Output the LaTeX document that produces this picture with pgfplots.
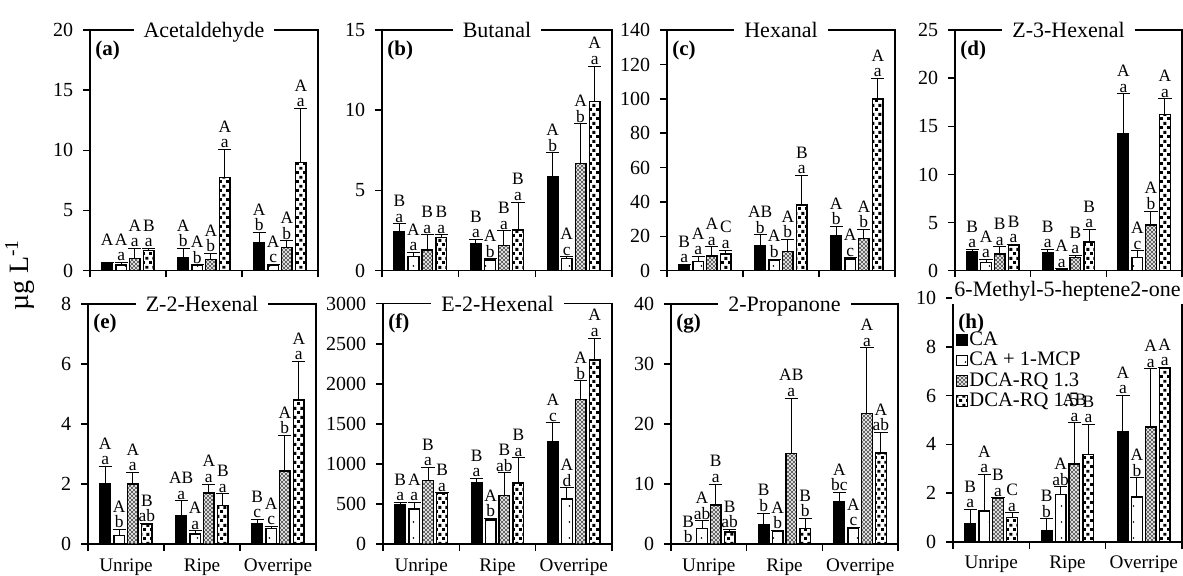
\documentclass[border=0pt]{standalone}
\usepackage{pgfplots}
\usepackage{pgfplotstable}
\pgfplotsset{compat=1.18}
\usepackage{fontspec}
\setmainfont{Liberation Serif}
\usetikzlibrary{patterns}

% fill patterns for the four storage treatments
\pgfdeclarepatternformonly{sparsedots}{\pgfqpoint{-1pt}{-1pt}}{\pgfqpoint{7pt}{9pt}}{\pgfqpoint{6pt}{8pt}}{%
  \pgfpathcircle{\pgfqpoint{2.7pt}{3pt}}{0.45pt}\pgfusepath{fill}}
\pgfdeclarepatternformonly{finecross}{\pgfqpoint{-0.5pt}{-0.5pt}}{\pgfqpoint{2.5pt}{2.5pt}}{\pgfqpoint{2pt}{2pt}}{%
  \pgfsetlinewidth{0.45pt}%
  \pgfpathmoveto{\pgfqpoint{0pt}{0pt}}\pgfpathlineto{\pgfqpoint{2pt}{2pt}}%
  \pgfpathmoveto{\pgfqpoint{0pt}{2pt}}\pgfpathlineto{\pgfqpoint{2pt}{0pt}}%
  \pgfusepath{stroke}}
\pgfdeclarepatternformonly{bigsquares}{\pgfqpoint{0pt}{0pt}}{\pgfqpoint{3.4pt}{4.6pt}}{\pgfqpoint{3.4pt}{4.6pt}}{%
  \pgfpathrectangle{\pgfqpoint{0pt}{0pt}}{\pgfqpoint{1.5pt}{1.5pt}}%
  \pgfpathrectangle{\pgfqpoint{1.7pt}{2.3pt}}{\pgfqpoint{1.5pt}{1.5pt}}%
  \pgfusepath{fill}}

% columns: v = mean, e = SD, U = upper-case letter, L = lower-case letter
% series 0 = CA, 1 = CA + 1-MCP, 2 = DCA-RQ 1.3, 3 = DCA-RQ 1.5
\pgfplotstableread{
g v0 e0 U0 L0 v1 e1 U1 L1 v2 e2 U2 L2 v3 e3 U3 L3
0 0.60 0.08 A {} 0.48 0.22 A a 1.00 0.85 A a 1.66 0.19 B a
1 1.10 0.75 A b  0.42 0.08 A b 0.94 0.50 A b 7.73 2.35 A a
2 2.35 0.84 A b  0.47 0.05 A c 1.91 0.56 A b 8.98 4.50 A a
}\tA
\pgfplotstableread{
g v0 e0 U0 L0 v1 e1 U1 L1 v2 e2 U2 L2 v3 e3 U3 L3
0 2.40 0.52 B a 0.88 0.25 A a 1.29 0.94 B a 2.06 0.17 B a
1 1.71 0.25 B a 0.67 0.06 A b 1.56 0.92 B a 2.54 1.73 B a
2 5.88 1.46 A b 0.77 0.10 A c 6.67 2.48 A b 10.56 2.19 A a
}\tB
\pgfplotstableread{
g v0 e0 U0 L0 v1 e1 U1 L1 v2 e2 U2 L2 v3 e3 U3 L3
0 3.3 0.4 B a 5.25 2.95 A a 8.6 5.4 A a 9.7 2.3 C a
1 14.4 6.4 AB b 6.2 0.6 A b 11.1 7.2 A b 38.3 17.1 B a
2 20.4 5.3 A b 6.8 0.8 A c 18.9 5.2 A b 100.0 11.8 A a
}\tC
\pgfplotstableread{
g v0 e0 U0 L0 v1 e1 U1 L1 v2 e2 U2 L2 v3 e3 U3 L3
0 1.98 0.22 B a 0.87 0.31 A a 1.74 0.76 B a 2.67 0.07 B a
1 1.91 0.29 B a 0.14 0.06 A a 1.39 0.21 B a 3.00 1.30 B a
2 14.2 4.20 A a 1.35 0.70 A c 4.76 1.44 A b 16.2 1.65 A a
}\tD
\pgfplotstableread{
g v0 e0 U0 L0 v1 e1 U1 L1 v2 e2 U2 L2 v3 e3 U3 L3
0 2.00 0.59 A a 0.29 0.21 A b 2.00 0.39 A a 0.67 0.03 B ab
1 0.95 0.50 AB a 0.34 0.11 A a 1.70 0.30 A a 1.29 0.39 B a
2 0.70 0.13 B c 0.53 0.06 A c 2.44 1.18 A b 4.80 1.28 A a
}\tE
\pgfplotstableread{
g v0 e0 U0 L0 v1 e1 U1 L1 v2 e2 U2 L2 v3 e3 U3 L3
0 493 29 B a 439 83 A a 794 167 B a 639 5 B a
1 765 58 B a 305 17 A b 606 284 B ab 765 313 B a
2 1283 230 A c 564 138 A d 1805 235 A b 2300 270 A a
}\tF
\pgfplotstableread{
g v0 e0 U0 L0 v1 e1 U1 L1 v2 e2 U2 L2 v3 e3 U3 L3
0 0.00 0.00 B b 2.6 1.3 A ab 6.5 3.5 B a 2.05 0.45 B ab
1 3.33 1.87 B b 2.1 0.2 A b 15.1 9.2 AB a 2.67 1.63 B b
2 7.10 1.50 A bc 2.6 0.2 A c 21.7 11.0 A a 15.2 3.4 A ab
}\tG
\pgfplotstableread{
g v0 e0 U0 L0 v1 e1 U1 L1 v2 e2 U2 L2 v3 e3 U3 L3
0 0.76 0.58 B a 1.27 1.50 A a 1.79 0.02 B a 1.00 0.20 C a
1 0.48 0.47 B b 1.95 0.31 A ab 3.20 1.68 AB a 3.59 1.23 B a
2 4.52 1.48 A a 1.84 0.79 A b 4.72 2.38 A a 7.11 0.05 A a
}\tH

\pgfplotsset{
  panel/.style={
    scale only axis, height=120.3pt, anchor=south west,
    xmin=-0.5, xmax=2.5, ymin=0,
    xtick={-0.5,0.5,1.5,2.5}, xticklabels={},
    xtick pos=bottom, ytick pos=left, tick align=outside,
    major tick length=3.4pt,
    axis line style={line width=0.8pt},
    every tick/.style={black, line width=0.8pt},
    tick label style={font=\fontsize{10}{10}\selectfont},
    yticklabel style={xshift=-1.5pt},
    /pgf/number format/assume math mode=true,
    /pgf/number format/1000 sep={},
    clip=false,
  },
  catlabels/.style={extra x ticks={0,1,2}, extra x tick labels={Unripe,Ripe,Overripe},
    extra x tick style={major tick length=0pt,
      tick label style={font=\fontsize{9.6}{9.6}\selectfont, yshift=-3.5pt}}},
  barbase/.style={ybar, bar width=0.14, bar shift=0pt, draw=black, line width=0.7pt,
    error bars/y dir=plus, error bars/y explicit,
    error bars/error bar style={line width=0.5pt, black, solid},
    error bars/error mark options={rotate=90, mark size=3.3pt, line width=0.5pt, black},
    legend image code/.code={\draw[##1, line width=0.5pt] (0pt,-2.7pt) rectangle (5.4pt,2.7pt);}},
  sCA/.style={barbase, fill=black},
  sMCP/.style={barbase, pattern=sparsedots},
  sR13/.style={barbase, pattern=finecross, pattern color=black!60},
  sR15/.style={barbase, pattern=bigsquares},
  labbase/.style={only marks, mark=*, mark size=0pt, mark options={draw=none, fill=none},
    forget plot, nodes near coords, point meta=explicit symbolic},
  lowlab/.style={labbase,
    every node near coord/.style={anchor=base, inner sep=0pt, yshift=0.8pt, font=\fontsize{8.7}{8.7}\selectfont}},
  uplab/.style={labbase,
    every node near coord/.style={anchor=base, inner sep=0pt, yshift=8.6pt, font=\fontsize{8.7}{8.7}\selectfont}},
}

% one treatment: bars with SD, then the two rows of letters above the SD cap
\newcommand\series[4]{%
  \addplot[#4] table[x expr=\thisrow{g}+#3, y=v#2, y error=e#2]{#1};
  \addplot[lowlab] table[x expr=\thisrow{g}+#3, y expr=\thisrow{v#2}+\thisrow{e#2}, meta=L#2]{#1};
  \addplot[uplab] table[x expr=\thisrow{g}+#3, y expr=\thisrow{v#2}+\thisrow{e#2}, meta=U#2]{#1};
}
\newcommand\allbars[1]{%
  \series{#1}{0}{-0.274}{sCA}%
  \series{#1}{1}{-0.09}{sMCP}%
  \series{#1}{2}{0.09}{sR13}%
  \series{#1}{3}{0.274}{sR15}%
}
\newcommand\paneltitle[2]{%
  \node[fill=white, inner xsep=5pt, inner ysep=1.2pt, anchor=base,
    font=\fontsize{11}{11}\selectfont, yshift=-3.7pt] at (rel axis cs:0.5,1) {#1};
  \node[anchor=north west, inner sep=0pt, xshift=2.5pt, yshift=-5pt,
    font=\bfseries\fontsize{10.5}{10.5}\selectfont] at (rel axis cs:0,1) {(#2)};
}

\begin{document}
\begin{tikzpicture}
\path[use as bounding box] (0,0) rectangle (591.5pt,288pt);

% top row
\begin{axis}[panel, at={(45pt,152.65pt)}, width=114pt, ymax=20, ytick={0,5,...,20}]
\allbars{\tA}
\paneltitle{Acetaldehyde}{a}
\end{axis}
\begin{axis}[panel, at={(191pt,152.65pt)}, width=115pt, ymax=15, ytick={0,5,10,15}]
\allbars{\tB}
\paneltitle{Butanal}{b}
\end{axis}
\begin{axis}[panel, at={(333.5pt,152.65pt)}, width=114pt, ymax=140, ytick={0,20,...,140}]
\allbars{\tC}
\paneltitle{Hexanal}{c}
\end{axis}
\begin{axis}[panel, at={(477.5pt,152.65pt)}, width=113.5pt, ymax=25, ytick={0,5,...,25}]
\allbars{\tD}
\paneltitle{Z-3-Hexenal}{d}
\end{axis}

% bottom row
\begin{axis}[panel, catlabels, at={(44pt,15.85pt)}, width=114pt, ymax=8, ytick={0,2,...,8}]
\allbars{\tE}
\paneltitle{Z-2-Hexenal}{e}
\end{axis}
\begin{axis}[panel, catlabels, at={(191.5pt,15.85pt)}, width=114.5pt, ymax=3000, ytick={0,500,...,3000}]
\allbars{\tF}
\paneltitle{E-2-Hexenal}{f}
\end{axis}
\begin{axis}[panel, catlabels, at={(335.5pt,15.85pt)}, width=113.5pt, ymax=40, ytick={0,10,...,40}]
\allbars{\tG}
\paneltitle{2-Propanone}{g}
\end{axis}
\begin{axis}[panel, catlabels, at={(476.5pt,17pt)}, width=114.5pt, height=122pt, ymax=10, ytick={0,2,...,10},
  legend style={at={(rel axis cs:0,1)}, anchor=north west, xshift=1.5pt, yshift=-16pt,
    draw=none, fill=none, inner sep=0pt, row sep=0.4pt,
    font=\fontsize{10.3}{10.3}\selectfont,
    nodes={inner sep=0.6pt, text height=7pt, text depth=1.6pt}},
  legend cell align=left]
\allbars{\tH}
\legend{CA, CA + 1-MCP, DCA-RQ 1.3, DCA-RQ 1.5}
\node[fill=white, inner xsep=1pt, inner ysep=1.2pt, anchor=base,
  font=\fontsize{11}{11}\selectfont, yshift=0.6pt] at (rel axis cs:0.5,1) {6-Methyl-5-heptene2-one};
\node[anchor=north west, inner sep=0pt, xshift=2.5pt, yshift=-8pt,
  font=\bfseries\fontsize{10.5}{10.5}\selectfont] at (rel axis cs:0,1) {(h)};
\end{axis}

% common y-axis title
\node[rotate=90, font=\fontsize{14}{14}\selectfont] at (10pt,150.5pt) {µg L\textsuperscript{-1}};
\end{tikzpicture}
\end{document}
